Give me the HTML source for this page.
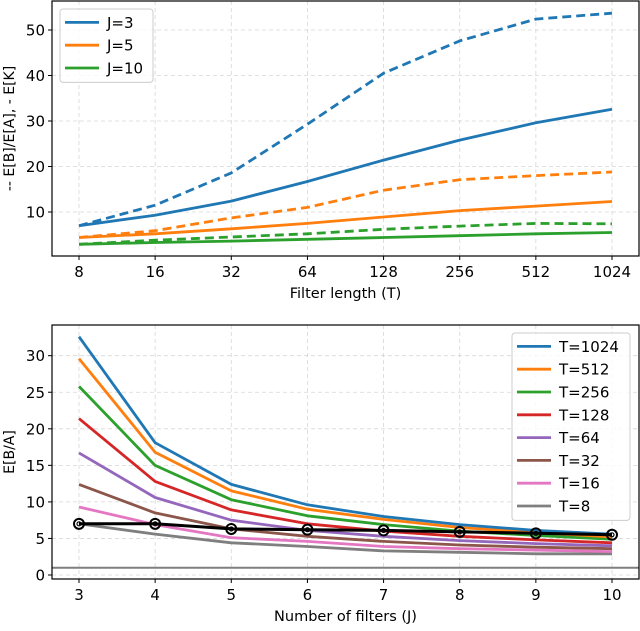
<!DOCTYPE html>
<html><head><meta charset="utf-8"><style>
body{margin:0;background:#fff;font-family:"DejaVu Sans","Liberation Sans",sans-serif}
svg text{font-family:"DejaVu Sans","Liberation Sans",sans-serif;fill:#000}
</style></head><body>
<svg id="c" width="640" height="627" viewBox="0 0 640 627" xmlns="http://www.w3.org/2000/svg"></svg>
<script>
const topCats=[8,16,32,64,128,256,512,1024];
const topSolidJ3=[7,9.3,12.4,16.7,21.4,25.8,29.6,32.6];
const topDashJ3=[7,11.5,18.6,29.3,40.5,47.6,52.4,53.7];
const topSolidJ5=[4.4,5.2,6.3,7.5,8.9,10.3,11.3,12.3];
const topDashJ5=[4.4,5.9,8.7,11.0,14.8,17.1,18.0,18.8];
const topSolidJ10=[2.9,3.3,3.6,4.0,4.4,4.8,5.2,5.5];
const topDashJ10=[2.9,3.8,4.5,5.2,6.2,6.9,7.5,7.4];
const topYTicks=[10,20,30,40,50];
const botCats=[3,4,5,6,7,8,9,10];
const botT1024=[32.6,18.1,12.4,9.6,8.0,6.9,6.1,5.6];
const botT512=[29.6,16.8,11.5,9.0,7.6,6.5,5.8,5.2];
const botT256=[25.8,15.0,10.3,8.1,6.9,6.0,5.4,4.9];
const botT128=[21.4,12.8,8.9,7.0,6.0,5.3,4.8,4.4];
const botT64=[16.7,10.6,7.5,6.1,5.3,4.7,4.3,4.0];
const botT32=[12.4,8.5,6.3,5.3,4.6,4.1,3.8,3.6];
const botT16=[9.3,6.9,5.1,4.6,3.9,3.6,3.4,3.2];
const botT8=[7.0,5.6,4.4,3.9,3.3,3.1,2.9,2.9];
const botBlack=[7.0,7.0,6.3,6.2,6.1,5.9,5.7,5.5];
const botHLine=1;
const botYTicks=[0,5,10,15,20,25,30];

const svg=document.getElementById('c');
const NS='http://www.w3.org/2000/svg';
function mk(tag,attrs,parent){const e=document.createElementNS(NS,tag);for(const k in attrs)e.setAttribute(k,attrs[k]);(parent||svg).appendChild(e);return e;}
const C={blue:'#1f77b4',orange:'#ff7f0e',green:'#2ca02c',red:'#d62728',purple:'#9467bd',brown:'#8c564b',pink:'#e377c2',gray:'#7f7f7f'};

const tx=i=>79+i*(612-79)/7;
const ty=v=>212-(v-10)*4.55;
const T={l:52,r:639,t:1,b:256};
const bx=i=>79+i*(612-79)/7;
const by=v=>575-v*7.31;
const B={l:52,r:639,t:325,b:579};

function grid(ax,xs,ys,xf,yf){
  xs.forEach((c,i)=>{const g=mk('line',{x1:xf(i),x2:xf(i),y1:ax.t,y2:ax.b,stroke:'#b0b0b0','stroke-width':0.8,'stroke-dasharray':'4,3','stroke-opacity':0.5});
  });
  ys.forEach(v=>{const g=mk('line',{x1:ax.l,x2:ax.r,y1:yf(v),y2:yf(v),stroke:'#b0b0b0','stroke-width':0.8,'stroke-dasharray':'4,3','stroke-opacity':0.5});
  });
}
function axes(ax,xs,ys,xf,yf,xl,yl,name){
  const f=mk('rect',{x:ax.l,y:ax.t,width:ax.r-ax.l,height:ax.b-ax.t,fill:'none',stroke:'#000','stroke-width':1.2});
  
  xs.forEach((c,i)=>{mk('line',{x1:xf(i),x2:xf(i),y1:ax.b,y2:ax.b+4,stroke:'#000'});
    const t=mk('text',{x:xf(i),y:ax.b+21,'text-anchor':'middle','font-size':15});t.textContent=c;
    });
  ys.forEach(v=>{mk('line',{x1:ax.l-4,x2:ax.l,y1:yf(v),y2:yf(v),stroke:'#000'});
    const t=mk('text',{x:ax.l-7,y:yf(v)+5.5,'text-anchor':'end','font-size':15});t.textContent=v;
    });
  const xt=mk('text',{x:(ax.l+ax.r)/2,y:ax.b+42,'text-anchor':'middle','font-size':14.5});xt.textContent=xl;
  
  const cy=(ax.t+ax.b)/2;
  const yt=mk('text',{x:14,y:cy,'text-anchor':'middle','font-size':14,transform:`rotate(-90 14 ${cy})`});yt.textContent=yl;
  
}
function series(vals,xf,yf,color,dash,name){
  const d=vals.map((v,i)=>(i?'L':'M')+xf(i).toFixed(1)+','+yf(v).toFixed(1)).join('');
  const p=mk('path',{d:d,fill:'none',stroke:color,'stroke-width':2.8,'stroke-dasharray':dash||'none','stroke-linejoin':'round'});
  
  return p;
}

grid(T,topCats,topYTicks,tx,ty);
[[topDashJ10,C.green,'9,5','line-j10-dashed'],[topSolidJ10,C.green,null,'line-j10-solid'],
 [topDashJ5,C.orange,'9,5','line-j5-dashed'],[topSolidJ5,C.orange,null,'line-j5-solid'],
 [topDashJ3,C.blue,'9,5','line-j3-dashed'],[topSolidJ3,C.blue,null,'line-j3-solid']]
 .forEach(s=>series(s[0],tx,ty,s[1],s[2],s[3]));
axes(T,topCats,topYTicks,tx,ty,'Filter length (T)','-- E[B]/E[A], - E[K]','top-chart');

function legend(x,y,w,sp,items,name){
  const h=items.length*sp+5;
  const r=mk('rect',{x:x,y:y,width:w,height:h,fill:'#fff','fill-opacity':0.8,stroke:'#ccc',rx:3});
  
  items.forEach((it,i)=>{const yy=y+2+sp/2+i*sp;
    const l=mk('line',{x1:x+5,x2:x+39,y1:yy,y2:yy,stroke:it[1],'stroke-width':2.8});
    
    const t=mk('text',{x:x+47,y:yy+5.5,'font-size':15});t.textContent=it[0];
    });
}
legend(60,9,93,22.8,[['J=3',C.blue],['J=5',C.orange],['J=10',C.green]],'top-legend');

grid(B,botCats,botYTicks,bx,by);
const hl=mk('line',{x1:B.l,x2:B.r,y1:by(botHLine),y2:by(botHLine),stroke:C.gray,'stroke-width':2});

const bs=[[botT8,C.gray,'T=8'],[botT16,C.pink,'T=16'],[botT32,C.brown,'T=32'],[botT64,C.purple,'T=64'],
 [botT128,C.red,'T=128'],[botT256,C.green,'T=256'],[botT512,C.orange,'T=512'],[botT1024,C.blue,'T=1024']];
bs.forEach(s=>series(s[0],bx,by,s[1],null,'line-'+s[2].toLowerCase().replace('=','')));
series(botBlack,bx,by,'#000',null,'line-black-reference').setAttribute('stroke-width',3);
botBlack.forEach((v,i)=>{const c=mk('circle',{cx:bx(i),cy:by(v),r:5,fill:'none',stroke:'#000','stroke-width':2});
  
  const d=mk('circle',{cx:bx(i),cy:by(v),r:2,fill:'none',stroke:'#000','stroke-width':1.2});
  });
axes(B,botCats,botYTicks,bx,by,'Number of filters (J)','E[B/A]','bottom-chart');
legend(512,333,118,22.8,bs.slice().reverse().map(s=>[s[2],s[1]]),'bottom-legend');
</script>
</body></html>
